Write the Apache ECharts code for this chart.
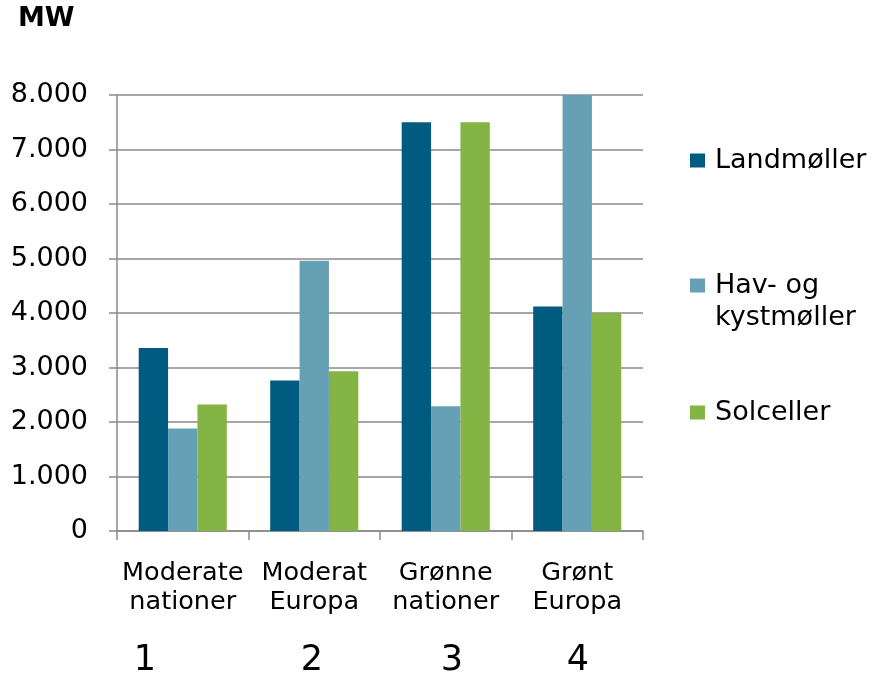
<!DOCTYPE html>
<html>
<head>
<meta charset="utf-8">
<script src="https://cdn.jsdelivr.net/npm/echarts@6/dist/echarts.min.js"></script>
<style>
  html, body { margin: 0; padding: 0; background: #fff; }
  #chart { width: 873px; height: 675px; }
</style>
</head>
<body>
<div id="chart"></div>
<script>
// Installed capacity per scenario (MW)
const categories = ['Moderate\nnationer', 'Moderat\nEuropa', 'Grønne\nnationer', 'Grønt\nEuropa'];
const scenarioNumbers = ['1', '2', '3', '4'];
const seriesNames = ['Landmøller', 'Hav- og kystmøller', 'Solceller'];
const landmoller = [3360, 2760, 7500, 4120];
const havKystmoller = [1880, 4960, 2290, 8000];
const solceller = [2320, 2930, 7500, 4000];
const yTicks = { min: 0, max: 8000, interval: 1000 };

const colors = ['#005B80', '#66A0B5', '#84B443'];
const font = 'DejaVu Sans, Verdana, sans-serif';
const axisGray = '#8A8A8A';

const chart = echarts.init(document.getElementById('chart'), null, { renderer: 'canvas' });

function fmtThousands(v) {
  return String(v).replace(/\B(?=(\d{3})+(?!\d))/g, '.');
}

function legendFor(name, top, label) {
  return {
    data: [name],
    orient: 'vertical',
    left: 690,
    top: top,
    padding: 0,
    itemWidth: 15,
    itemHeight: 14,
    itemGap: 0,
    icon: 'rect',
    selectedMode: false,
    formatter: label ? () => label : undefined,
    textStyle: { fontFamily: font, fontSize: 27, color: '#000', padding: [0, 0, 0, 5] }
  };
}

const option = {
  backgroundColor: '#fff',
  animation: false,
  color: colors,
  grid: { left: 117, right: 230, top: 95, bottom: 144, containLabel: false },
  legend: [
    legendFor(seriesNames[0], 147),
    legendFor(seriesNames[1], 272, 'Hav- og'),
    legendFor(seriesNames[2], 399)
  ],
  xAxis: {
    type: 'category',
    data: categories,
    boundaryGap: true,
    axisLine: { show: true, lineStyle: { color: axisGray, width: 1.5 } },
    axisTick: { show: true, length: 9, lineStyle: { color: axisGray, width: 1.5 } },
    axisLabel: {
      fontFamily: font, fontSize: 25.5, color: '#000', margin: 28, lineHeight: 29,
      interval: 0
    }
  },
  yAxis: {
    type: 'value',
    min: yTicks.min,
    max: yTicks.max,
    interval: yTicks.interval,
    axisLine: { show: true, lineStyle: { color: axisGray, width: 1.5 } },
    axisTick: { show: true, length: 8, lineStyle: { color: axisGray, width: 1.5 } },
    splitLine: { show: true, lineStyle: { color: axisGray, width: 1.5 } },
    axisLabel: {
      fontFamily: font, fontSize: 27, color: '#000', margin: 29,
      formatter: fmtThousands
    }
  },
  series: [
    { name: seriesNames[0], type: 'bar', data: landmoller, barGap: '0%', barCategoryGap: '33%' },
    { name: seriesNames[1], type: 'bar', data: havKystmoller, barGap: '0%', barCategoryGap: '33%' },
    { name: seriesNames[2], type: 'bar', data: solceller, barGap: '0%', barCategoryGap: '33%' }
  ],
  graphic: [
    {
      // unit label above the value axis
      type: 'text', x: 18, y: 19,
      style: { text: 'MW', fontFamily: font, fontSize: 27, fontWeight: 'bold', fill: '#000', verticalAlign: 'middle' }
    },
    {
      // second line of the offshore wind legend entry
      type: 'text', x: 715, y: 318,
      style: { text: 'kystmøller', fontFamily: font, fontSize: 27, fill: '#000', verticalAlign: 'middle' }
    }
  ].concat(scenarioNumbers.map((n, i) => ({
    type: 'text',
    x: [145, 312, 452, 578][i],
    y: 661,
    style: {
      text: n, fontFamily: font, fontSize: 35, fill: '#000',
      align: 'center', verticalAlign: 'middle'
    }
  })))
};

chart.setOption(option);
</script>
</body>
</html>
